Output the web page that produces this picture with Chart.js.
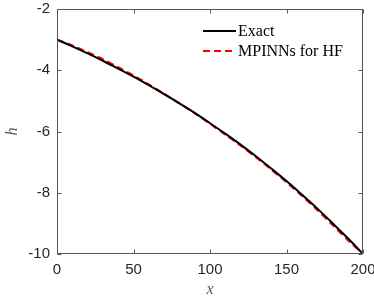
<!DOCTYPE html>
<html>
<head>
<meta charset="utf-8">
<script src="https://cdn.jsdelivr.net/npm/chart.js@4.4.1/dist/chart.umd.min.js"></script>
<style>
  html, body { margin: 0; padding: 0; background: #fff; overflow: hidden; }
  #wrap { width: 374px; height: 299px; position: relative; }
</style>
</head>
<body>
<div id="wrap"><canvas id="myChart"></canvas></div>
<script>
// values
const xValues = [0, 10, 20, 30, 40, 50, 60, 70, 80, 90, 100, 110, 120, 130, 140, 150, 160, 170, 180, 190, 200];
const exactValues = [-3.00, -3.22, -3.45, -3.69, -3.95, -4.21, -4.49, -4.78, -5.08, -5.39, -5.73, -6.07, -6.43, -6.81, -7.21, -7.62, -8.06, -8.51, -8.99, -9.48, -10.00];
const mpinnValues = [-3.00, -3.19, -3.41, -3.64, -3.90, -4.17, -4.46, -4.77, -5.08, -5.40, -5.75, -6.10, -6.46, -6.84, -7.24, -7.66, -8.10, -8.56, -9.05, -9.54, -10.00];
const seriesLabels = ['Exact', 'MPINNs for HF'];
const xTicks = [0, 50, 100, 150, 200];
const yTicks = [-10, -8, -6, -4, -2];

const axisColor = '#555';
const labelColor = '#262626';

// box round the plot with inward ticks, like matlab
const boxPlugin = {
    id: 'boxTicks',
    afterDraw(chart) {
        const ctx = chart.ctx;
        const a = chart.chartArea;
        const sx = chart.scales.x, sy = chart.scales.y;
        const L = Math.round(a.left) + 0.5, R = Math.round(a.right) - 0.5;
        const T = Math.round(a.top) + 0.5, B = Math.round(a.bottom) - 0.5;
        ctx.save();
        ctx.strokeStyle = axisColor;
        ctx.lineWidth = 1;
        ctx.strokeRect(L, T, R - L, B - T);
        ctx.beginPath();
        xTicks.forEach(v => {
            const px = Math.round(sx.getPixelForValue(v)) + 0.5;
            ctx.moveTo(px, B); ctx.lineTo(px, B - 4);
            ctx.moveTo(px, T); ctx.lineTo(px, T + 4);
        });
        yTicks.forEach(v => {
            const py = Math.round(sy.getPixelForValue(v)) + 0.5;
            ctx.moveTo(L, py); ctx.lineTo(L + 4, py);
            ctx.moveTo(R, py); ctx.lineTo(R - 4, py);
        });
        ctx.stroke();
        ctx.restore();
    }
};

const legendPlugin = {
    id: 'insideLegend',
    afterDraw(chart) {
        const ctx = chart.ctx;
        const x0 = 203;
        const rows = [31, 51];
        chart.data.datasets.forEach((ds, i) => {
            ctx.save();
            ctx.strokeStyle = ds.borderColor;
            ctx.lineWidth = 2;
            ctx.setLineDash(ds.borderDash || []);
            ctx.beginPath();
            ctx.moveTo(x0, rows[i]);
            ctx.lineTo(x0 + 33, rows[i]);
            ctx.stroke();
            ctx.setLineDash([]);
            ctx.fillStyle = '#000';
            ctx.font = '16px "Liberation Serif"';
            ctx.textBaseline = 'middle';
            ctx.fillText(ds.label, x0 + 35, rows[i] + 1);
            ctx.restore();
        });
    }
};

const ctx = document.getElementById('myChart').getContext('2d');
new Chart(ctx, {
    type: 'line',
    data: {
        datasets: [{
            label: seriesLabels[0],
            data: xValues.map((x, i) => ({ x: x, y: exactValues[i] })),
            borderColor: '#000',
            borderWidth: 2,
            pointRadius: 0,
            tension: 0.3
        }, {
            label: seriesLabels[1],
            data: xValues.map((x, i) => ({ x: x, y: mpinnValues[i] })),
            borderColor: '#ff0000',
            borderWidth: 2,
            borderDash: [7, 4],
            pointRadius: 0,
            tension: 0.3
        }]
    },
    options: {
        responsive: true,
        maintainAspectRatio: false,
        animation: false,
        layout: { padding: { top: 9, right: 11, left: 0, bottom: 0 } },
        plugins: {
            legend: { display: false },
            tooltip: { enabled: false }
        },
        scales: {
            x: {
                type: 'linear',
                min: 0,
                max: 200,
                afterBuildTicks: s => { s.ticks = xTicks.map(v => ({ value: v })); },
                afterFit: s => { s.height = 45; s.paddingLeft = 0; s.paddingRight = 0; },
                grid: { display: false, drawTicks: false },
                border: { display: false },
                ticks: {
                    color: labelColor,
                    padding: 7,
                    maxRotation: 0,
                    font: { family: '"Liberation Sans", Arial, sans-serif', size: 15 }
                },
                title: {
                    display: true,
                    text: 'x',
                    color: '#555',
                    padding: 0,
                    font: { family: '"Liberation Serif", serif', size: 16, style: 'italic' }
                }
            },
            y: {
                type: 'linear',
                min: -10,
                max: -2,
                afterBuildTicks: s => { s.ticks = yTicks.map(v => ({ value: v })); },
                afterFit: s => { s.width = 57; s.paddingTop = 0; s.paddingBottom = 0; },
                grid: { display: false, drawTicks: false },
                border: { display: false },
                ticks: {
                    color: labelColor,
                    padding: 7,
                    font: { family: '"Liberation Sans", Arial, sans-serif', size: 15 }
                },
                title: {
                    display: true,
                    text: 'h',
                    color: '#555',
                    padding: 3,
                    font: { family: '"Liberation Serif", serif', size: 16, style: 'italic' }
                }
            }
        }
    },
    plugins: [boxPlugin, legendPlugin]
});
</script>
</body>
</html>
